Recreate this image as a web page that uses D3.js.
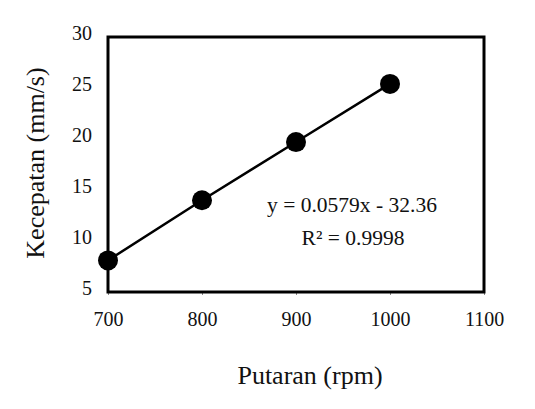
<!DOCTYPE html>
<html><head><meta charset="utf-8">
<script src="https://cdn.jsdelivr.net/npm/d3@7"></script>
<style>body{margin:0;background:#fff}svg{display:block}</style>
</head><body><svg id="c" width="535" height="409"></svg>
<script>
const rpm = [700, 800, 900, 1000];
const speed = [8.1, 14.0, 19.7, 25.4];
const xTicks = [700, 800, 900, 1000, 1100];
const yTicks = [5, 10, 15, 20, 25, 30];
const eqLines = ["y = 0.0579x - 32.36", "R² = 0.9998"];

const svg = d3.select("#c");
const font = "'Liberation Serif','Times New Roman',serif";
const m = {l:108, t:37, r:484, b:292};
const x = d3.scaleLinear().domain([700,1100]).range([m.l, m.r]);
const y = d3.scaleLinear().domain([5,30]).range([m.b, m.t]);

// axes
const xa = svg.append("g").attr("transform",`translate(0,${m.b})`)
  .call(d3.axisBottom(x).tickValues(xTicks).tickFormat(d3.format("d")).tickSize(3).tickPadding(17));
xa.select(".domain").remove();
xa.selectAll("text").attr("font-family",font).attr("font-size",20).attr("fill","#111");
xa.selectAll("line").attr("stroke","#888");

const ya = svg.append("g").attr("transform",`translate(${m.l},0)`)
  .call(d3.axisLeft(y).tickValues(yTicks).tickFormat(d3.format("d")).tickSize(0).tickPadding(16));
ya.select(".domain").remove();
ya.selectAll("text").attr("font-family",font).attr("font-size",20).attr("fill","#111").attr("dy","0.1em");

// frame
svg.append("rect").attr("x",m.l).attr("y",m.t).attr("width",m.r-m.l).attr("height",m.b-m.t)
  .attr("fill","none").attr("stroke","#000").attr("stroke-width",3);

const data = rpm.map((v,i)=>({x:v,y:speed[i]}));
svg.append("path").datum(data)
  .attr("d", d3.line().x(d=>x(d.x)).y(d=>y(d.y)))
  .attr("fill","none").attr("stroke","#000").attr("stroke-width",2.5);
svg.selectAll("circle.p").data(data).join("circle")
  .attr("cx",d=>x(d.x)).attr("cy",d=>y(d.y)).attr("r",10).attr("fill","#000");

// equation
const eq = svg.append("g").attr("font-family",font).attr("font-size",21.5).attr("fill","#111").attr("text-anchor","middle");
eq.append("text").attr("x",352).attr("y",212).text(eqLines[0]);
eq.append("text").attr("x",353).attr("y",245).text(eqLines[1]);

// axis titles
svg.append("text").attr("x",310).attr("y",384).attr("text-anchor","middle")
  .attr("font-family",font).attr("font-size",26).attr("fill","#111").text("Putaran (rpm)");
svg.append("text").attr("transform","translate(44,163) rotate(-90)").attr("text-anchor","middle")
  .attr("font-family",font).attr("font-size",26).attr("fill","#111").text("Kecepatan (mm/s)");
</script></body></html>
